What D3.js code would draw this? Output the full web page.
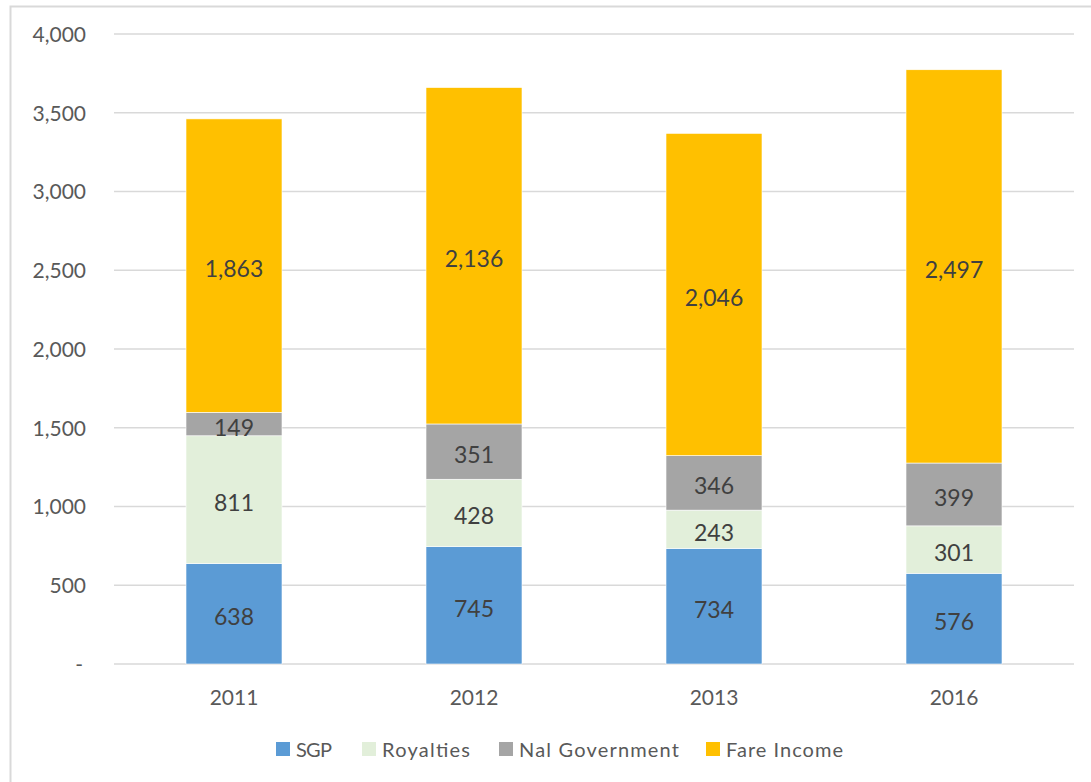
<!DOCTYPE html>
<html><head><meta charset="utf-8">
<script src="https://cdn.jsdelivr.net/npm/d3@7"></script>
<style>body{margin:0;background:#fff}</style>
</head><body>
<script>
const categories = ["2011","2012","2013","2016"];
const seriesNames = ["SGP","Royalties","Nal Government","Fare Income"];
const sgp = [638,745,734,576];
const royalties = [811,428,243,301];
const nalGovernment = [149,351,346,399];
const fareIncome = [1863,2136,2046,2497];
const colors = ["#5B9BD5","#E2EFDA","#A5A5A5","#FFC000"];
const yTicks = [0,500,1000,1500,2000,2500,3000,3500,4000];

const W=1091,H=782;
const svg=d3.select("body").append("svg").attr("width",W).attr("height",H);
const font="Lato, 'Open Sans', sans-serif";
svg.append("rect").attr("x",10.5).attr("y",6.5).attr("width",W+10).attr("height",H+10)
  .attr("fill","#fff").attr("stroke","#D9D9D9").attr("stroke-width",2);

const x=d3.scaleBand().domain(categories).range([114,1074]).paddingInner(0.6).paddingOuter(0.3);
const y=d3.scaleLinear().domain([0,4000]).range([664,34]);

const g=svg.append("g");
g.selectAll("line.grid").data(yTicks).join("line")
  .attr("x1",114).attr("x2",1074).attr("y1",d=>y(d)).attr("y2",d=>y(d))
  .attr("stroke","#D9D9D9").attr("stroke-width",1.5);

const fmt=d3.format(",");
const yAxis=d3.axisLeft(y).tickValues(yTicks).tickSize(0).tickPadding(0)
  .tickFormat(d=>d===0?"-":fmt(d));
const ya=svg.append("g").attr("transform","translate(86,0)").call(yAxis);
ya.select(".domain").remove();
ya.selectAll("text").attr("font-family",font).attr("font-size",21).attr("fill","#595959")
  .attr("dy","0.35em").attr("dx",d=>d===0?-3:0);

const xAxis=d3.axisBottom(x).tickSize(0).tickPadding(0);
const xa=svg.append("g").attr("transform","translate(0,698)").call(xAxis);
xa.select(".domain").remove();
xa.selectAll("text").attr("font-family",font).attr("font-size",21).attr("fill","#595959").attr("dy","0.35em");

const rows=categories.map((c,i)=>({cat:c,"SGP":sgp[i],"Royalties":royalties[i],"Nal Government":nalGovernment[i],"Fare Income":fareIncome[i]}));
const stack=d3.stack().keys(seriesNames)(rows);
stack.forEach((s,si)=>{
  const sg=svg.append("g");
  sg.selectAll("rect").data(s).join("rect")
    .attr("x",d=>x(d.data.cat)).attr("width",x.bandwidth())
    .attr("y",d=>y(d[1])).attr("height",d=>y(d[0])-y(d[1]))
    .attr("fill",colors[si]).attr("stroke","#fff").attr("stroke-width",0.6);
  sg.selectAll("text").data(s).join("text")
    .attr("x",d=>x(d.data.cat)+x.bandwidth()/2).attr("y",d=>(y(d[0])+y(d[1]))/2)
    .attr("dy","0.5em").attr("text-anchor","middle")
    .attr("font-family",font).attr("font-size",23).attr("fill","#404040")
    .text(d=>fmt(d[1]-d[0]));
});

// legend layout
const legX=[276,362,499,706];
const legW=[36,88,160,117];
const leg=svg.append("g");
seriesNames.forEach((n,i)=>{
  leg.append("rect").attr("x",legX[i]).attr("y",742).attr("width",14).attr("height",14).attr("fill",colors[i]);
  leg.append("text").attr("x",legX[i]+20).attr("y",749).attr("dy","0.38em")
    .attr("font-family",font).attr("font-size",20).attr("textLength",legW[i]).attr("lengthAdjust","spacing")
    .attr("fill","#595959").text(n);
});
</script>
</body></html>
